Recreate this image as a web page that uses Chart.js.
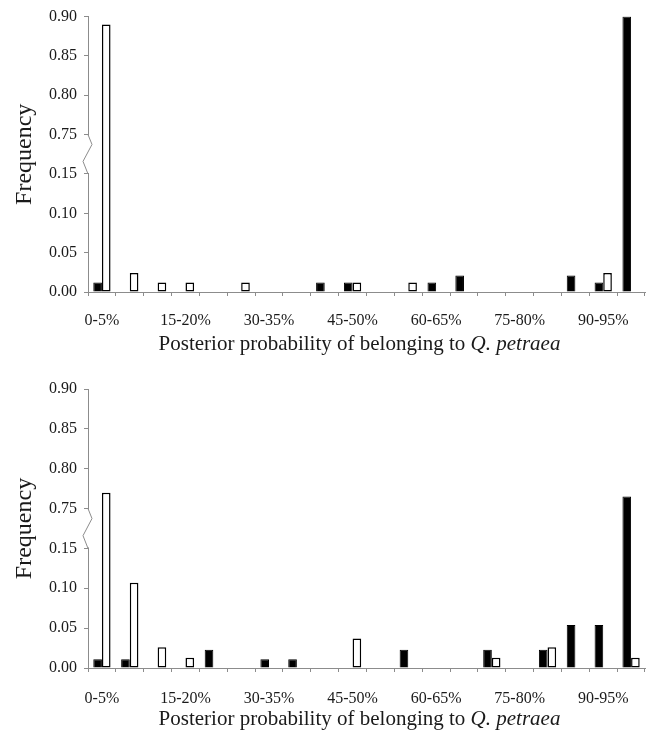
<!DOCTYPE html>
<html>
<head>
<meta charset="utf-8">
<script src="https://cdn.jsdelivr.net/npm/chart.js@4.4.0/dist/chart.umd.min.js"></script>
<style>
  body { margin: 0; background: #fff; }
  #wrap { position: relative; width: 650px; height: 731px; }
  canvas { position: absolute; left: 0; }
  .xtitle { position: absolute; left: 0; width: 650px; padding-left: 69px; box-sizing: border-box;
            text-align: center; font-family: 'Liberation Serif', serif; font-size: 21px;
            line-height: 21px; color: #1a1a1a; white-space: nowrap; }
</style>
</head>
<body>
<div id="wrap">
  <canvas id="topChart" width="650" height="365" style="top:0"></canvas>
  <div class="xtitle" style="top:333px">Posterior probability of belonging to <i>Q. petraea</i></div>
  <canvas id="bottomChart" width="650" height="366" style="top:365px"></canvas>
  <div class="xtitle" style="top:708px">Posterior probability of belonging to <i>Q. petraea</i></div>
</div>
<script>
// classes de probabilité a posteriori
const categories = ['0-5%', '5-10%', '10-15%', '15-20%', '20-25%', '25-30%', '30-35%', '35-40%', '40-45%', '45-50%',
                    '50-55%', '55-60%', '60-65%', '65-70%', '70-75%', '75-80%', '80-85%', '85-90%', '90-95%', '95-100%'];

// panneau du haut
const topBlack = [0.012, 0, 0, 0, 0, 0, 0, 0, 0.012, 0.012, 0, 0, 0.012, 0.021, 0, 0, 0, 0.021, 0.012, 0.90];
const topWhite = [0.89, 0.024, 0.012, 0.012, 0, 0.012, 0, 0, 0, 0.012, 0, 0.012, 0, 0, 0, 0, 0, 0, 0.024, 0];

// panneau du bas
const bottomBlack = [0.011, 0.011, 0, 0, 0.023, 0, 0.011, 0.011, 0, 0, 0, 0.023, 0, 0, 0.023, 0, 0.023, 0.054, 0.054, 0.765];
const bottomWhite = [0.77, 0.107, 0.026, 0.013, 0, 0, 0, 0, 0, 0.037, 0, 0, 0, 0, 0.013, 0, 0.026, 0, 0, 0.013];

// graduations de l'axe y (coupé entre 0.15 et 0.75)
const yTicks = [0.00, 0.05, 0.10, 0.15, 0.75, 0.80, 0.85, 0.90];
const breakLow = 0.15, breakHigh = 0.75, step = 0.05;

function toAxis(v) {
  if (v <= breakLow) return v / step;
  if (v >= breakHigh) return breakLow / step + 1 + (v - breakHigh) / step;
  return breakLow / step + (v - breakLow) / (breakHigh - breakLow);
}

// échelle linéaire avec une coupure
class BrokenScale extends Chart.LinearScale {
  getPixelForValue(value) {
    return super.getPixelForValue(toAxis(value));
  }
}
BrokenScale.id = 'broken';
BrokenScale.defaults = Chart.LinearScale.defaults;
Chart.register(BrokenScale);

const axisColor = '#8c8c8c';
const textColor = '#1a1a1a';
const serif = 'Liberation Serif';

const breakMark = {
  id: 'breakMark',
  afterDraw(chart) {
    const y = chart.scales.y;
    const x0 = chart.chartArea.left;
    const yHi = y.getPixelForValue(breakHigh);
    const yLo = y.getPixelForValue(breakLow);
    const h = yLo - yHi;
    const ctx = chart.ctx;
    ctx.save();
    ctx.fillStyle = '#fff';
    ctx.fillRect(x0 - 2, yHi + 1, 4, h - 2);
    ctx.strokeStyle = axisColor;
    ctx.lineWidth = 1;
    ctx.beginPath();
    ctx.moveTo(x0, yHi);
    ctx.lineTo(x0 + 4, yHi + h * 0.25);
    ctx.lineTo(x0 - 5, yHi + h * 0.68);
    ctx.lineTo(x0, yLo);
    ctx.stroke();
    ctx.restore();
  }
};

function makeChart(id, black, white, padTop, xHeight, labelPad) {
  new Chart(document.getElementById(id), {
    type: 'bar',
    data: {
      labels: categories,
      datasets: [{
        label: 'Q. petraea',
        data: black,
        backgroundColor: '#000',
        borderColor: '#000',
        borderWidth: 1,
        categoryPercentage: 0.62,
        barPercentage: 1
      }, {
        label: 'Q. robur',
        data: white,
        backgroundColor: '#fff',
        borderColor: '#000',
        borderWidth: 1.5,
        borderSkipped: false,
        categoryPercentage: 0.62,
        barPercentage: 1
      }]
    },
    options: {
      responsive: false,
      animation: false,
      layout: { padding: { top: padTop, right: 5, left: 0, bottom: 0 } },
      plugins: { legend: { display: false }, tooltip: { enabled: false } },
      scales: {
        x: {
          grid: { offset: true, drawOnChartArea: false, color: axisColor, tickLength: 4 },
          border: { color: axisColor },
          afterFit: s => { s.height = xHeight; },
          ticks: {
            autoSkip: false,
            maxRotation: 0,
            padding: labelPad,
            color: textColor,
            font: { family: serif, size: 16 },
            callback: function (val, i) { return i % 3 === 0 ? this.getLabelForValue(val) : ''; }
          }
        },
        y: {
          type: 'broken',
          min: 0,
          max: 7,
          afterBuildTicks: s => { s.ticks = yTicks.map(v => ({ value: v })); },
          afterFit: s => { s.width = 88; },
          grid: { drawOnChartArea: false, color: axisColor, tickLength: 4 },
          border: { color: axisColor },
          ticks: {
            padding: 7,
            color: textColor,
            font: { family: serif, size: 16 },
            callback: v => v.toFixed(2)
          },
          title: {
            display: true,
            text: 'Frequency',
            color: textColor,
            font: { family: serif, size: 24 },
            padding: { top: 10, bottom: 0 }
          }
        }
      }
    },
    plugins: [breakMark]
  });
}

makeChart('topChart', topBlack, topWhite, 15, 73, 15);
makeChart('bottomChart', bottomBlack, bottomWhite, 24, 63, 17);
</script>
</body>
</html>
